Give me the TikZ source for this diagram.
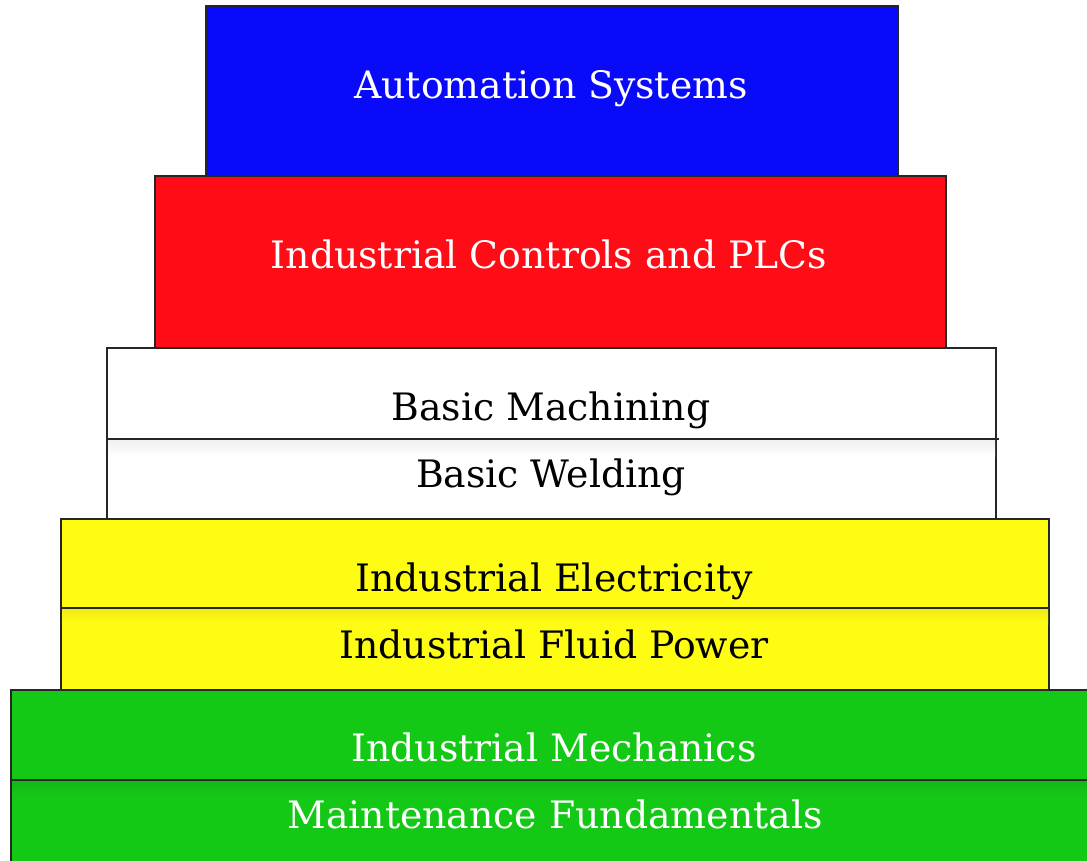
\documentclass[tikz,border=0pt]{standalone}
\usepackage{fontspec}
\setmainfont{DejaVu Serif}

\definecolor{tierblue}{RGB}{10,10,250}
\definecolor{tierred}{RGB}{255,12,22}
\definecolor{tieryellow}{RGB}{255,252,20}
\definecolor{tiergreen}{RGB}{20,200,22}

\begin{document}
\begin{tikzpicture}[x=0.02cm,y=-0.02cm,
    tier/.style={draw=black!85,line width=1.2pt},
    lbl/.style={anchor=base,inner sep=0pt,font=\fontsize{21.5}{26}\selectfont}]
    \useasboundingbox (0,0) rectangle (1087,860);
    \clip (0,0) rectangle (1087,860);

    % green base
    \draw[tier,fill=tiergreen] (11,690) rectangle (1099,864);
    \shade[top color=tiergreen!92!black,bottom color=tiergreen] (12,781) rectangle (1099,796);
    \draw[tier] (11,780) -- (1099,780);
    \node[lbl,white] (mechanics) at (554,761) {Industrial Mechanics};
    \node[lbl,white] (maintenance) at (555,828) {Maintenance Fundamentals};

    % yellow
    \draw[tier,fill=tieryellow] (61,519) rectangle (1049,690);
    \shade[top color=tieryellow!94!black,bottom color=tieryellow] (62,609) rectangle (1048,624);
    \draw[tier] (61,608) -- (1049,608);
    \node[lbl] (electricity) at (554,591) {Industrial Electricity};
    \node[lbl] (fluid) at (554,658) {Industrial Fluid Power};

    % white
    \draw[tier,fill=white] (107,348) rectangle (996,519);
    \shade[top color=black!6,bottom color=white] (108,440) rectangle (995,456);
    \draw[tier] (107,439) -- (999,439);
    \node[lbl] (machining) at (551,420) {Basic Machining};
    \node[lbl] (welding) at (551,487) {Basic Welding};

    % red
    \draw[tier,fill=tierred] (155,176) rectangle (946,348);
    \node[lbl,white] (plc) at (549,268) {Industrial Controls and PLCs};

    % blue top
    \draw[tier,fill=tierblue] (206,6) rectangle (898,176);
    \node[lbl,white] (automation) at (551,98) {Automation Systems};
\end{tikzpicture}
\end{document}
